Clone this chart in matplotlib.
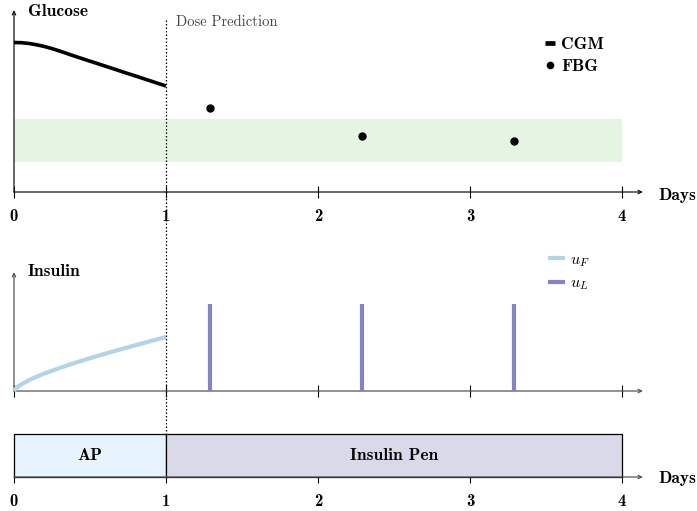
import numpy as np
import matplotlib
matplotlib.use("Agg")
import matplotlib.pyplot as plt
from matplotlib.lines import Line2D
import matplotlib.transforms as mtrans

plt.rcParams['mathtext.fontset'] = 'cm'

# ---------------- data ----------------
days = [0, 1, 2, 3, 4]
day_labels = ['0', '1', '2', '3', '4']

cgm_t = [0, 0.05, 0.1, 0.15, 0.2, 0.25, 0.3, 0.35, 0.4, 0.45, 0.5, 0.55, 0.6,
         0.65, 0.7, 0.75, 0.8, 0.85, 0.9, 0.95, 1.0]
cgm_g = [149.5, 149.3, 148.5, 147.2, 145.5, 143.4, 141.0, 138.4, 135.8, 133.3,
         130.8, 128.4, 125.9, 123.4, 120.9, 118.4, 116.0, 113.5, 111.0, 108.5, 106.0]

fbg_t = [1.29, 2.29, 3.29]
fbg_g = [84, 56, 51]

target_low, target_high = 30, 73

uf_t = [0, 0.01, 0.025, 0.05, 0.1, 0.15, 0.2, 0.3, 0.4, 0.5, 0.6, 0.7, 0.8, 0.9, 1.0]
uf_v = [0, 2.2, 4.3, 6.8, 11.0, 14.4, 17.5, 23.0, 28.1, 32.8, 37.3, 41.6, 45.8, 49.9, 54.0]

ul_t = [1.29, 2.29, 3.29]
ul_v = [87, 87, 87]

modes = ['AP', 'Insulin Pen']
mode_start = [0, 1]
mode_end = [1, 4]
mode_colors = ['#e6f2fc', '#d9d9ea']

dose_day = 1

# ---------------- layout ----------------
W, H = 697, 511
fig = plt.figure(figsize=(W / 100, H / 100), dpi=100)

X0, XARR = 14, 643
PXD = 152.0
xmax = (XARR - X0) / PXD

def add_ax(top, bottom):
    return fig.add_axes([X0 / W, 1 - bottom / H, (XARR - X0) / W, (bottom - top) / H])

BOLD = 'cmb10'
ROMAN = 'cmr10'
FS = 12.5

def style_axes(ax, color, labels, yarrow=True):
    for s in ax.spines.values():
        s.set_visible(False)
    ax.set_xlim(0, xmax)
    ax.set_xticks(days)
    ax.tick_params(axis='x', direction='inout', length=8, width=0.8, color='black', pad=8)
    if labels:
        ax.set_xticklabels(day_labels, fontfamily=BOLD, fontsize=12)
    else:
        ax.set_xticklabels([])
    ax.set_yticks([])
    ax.annotate('', xy=(1, 0), xytext=(0, 0), xycoords='axes fraction',
                arrowprops=dict(arrowstyle='->,head_length=0.25,head_width=0.12',
                                lw=0.9, color=color, shrinkA=0, shrinkB=0))
    if yarrow:
        ax.annotate('', xy=(0, 1), xytext=(0, 0), xycoords='axes fraction',
                    arrowprops=dict(arrowstyle='->,head_length=0.25,head_width=0.12',
                                    lw=0.9, color=color, shrinkA=0, shrinkB=0))
    ax.patch.set_alpha(0)

# --- glucose panel ---
ax1 = add_ax(10, 192)
ax1.set_ylim(0, 182)
style_axes(ax1, '#111111', True)
ax1.fill_between([0, 4], target_low, target_high, color='#e5f4e3', lw=0, zorder=1)
ax1.plot(cgm_t, cgm_g, color='black', lw=2.6, solid_capstyle='butt', zorder=3)
ax1.plot(fbg_t, fbg_g, 'o', color='black', ms=5, zorder=3)
h1 = [Line2D([], [], color='black', lw=3.4, solid_capstyle='butt'),
      Line2D([], [], marker='o', color='black', ls='none', ms=4.5)]
ax1.legend(h1, ['CGM', 'FBG'], frameon=False, prop={'family': BOLD, 'size': FS},
           handlelength=0.55, handletextpad=0.4, labelspacing=0.38,
           loc='upper left', bbox_to_anchor=(545 / W, 1 - 37 / H),
           bbox_transform=fig.transFigure, borderpad=0, borderaxespad=0)

fig.text(28 / W, 1 - 12 / H, 'Glucose', fontfamily=BOLD, fontsize=FS, va='center', ha='left')
fig.text(176 / W, 1 - 22 / H, 'Dose Prediction', fontfamily=ROMAN, fontsize=10.5,
         va='center', ha='left', color='#444444')
fig.text(658 / W, 1 - 195 / H, 'Days', fontfamily=BOLD, fontsize=FS, va='center', ha='left')

# --- insulin panel ---
ax2 = add_ax(272, 391)
ax2.set_ylim(0, 119)
style_axes(ax2, '#555555', False)
ax2.plot(uf_t, uf_v, color='#b3d4e6', lw=3.0, solid_capstyle='butt', zorder=3, clip_on=False)
ax2.vlines(ul_t, 0, ul_v, color='#8484c4', lw=3.0, zorder=3)
h2 = [Line2D([], [], color='#b3d4e6', lw=3.0, solid_capstyle='butt'),
      Line2D([], [], color='#8484c4', lw=3.0, solid_capstyle='butt')]
ax2.legend(h2, ['$u_F$', '$u_L$'], frameon=False, prop={'size': 11.5},
           handlelength=1.05, handletextpad=0.35, labelspacing=0.4,
           loc='upper left', bbox_to_anchor=(548 / W, 1 - 252 / H),
           bbox_transform=fig.transFigure, borderpad=0, borderaxespad=0)
fig.text(28 / W, 1 - 271 / H, 'Insulin', fontfamily=BOLD, fontsize=FS, va='center', ha='left')

# --- mode panel ---
ax3 = add_ax(434, 477)
ax3.set_ylim(0, 1)
style_axes(ax3, '#555555', True, yarrow=False)
for name, s, e, c in zip(modes, mode_start, mode_end, mode_colors):
    ax3.bar(s, 1, width=e - s, bottom=0, align='edge', color=c, edgecolor='black',
            lw=0.9, zorder=2, clip_on=False)
    ax3.text((s + e) / 2, 0.5, name, fontfamily=BOLD, fontsize=FS, ha='center', va='center')
fig.text(658 / W, 1 - 478 / H, 'Days', fontfamily=BOLD, fontsize=FS, va='center', ha='left')

# --- dose prediction divider ---
tr = mtrans.blended_transform_factory(ax1.transData, fig.transFigure)
fig.add_artist(Line2D([dose_day, dose_day], [1 - 20 / H, 1 - 434 / H], transform=tr,
                      color='black', lw=0.9, ls=(0, (1.2, 1.6))))

fig.savefig('out.png', dpi=100)
